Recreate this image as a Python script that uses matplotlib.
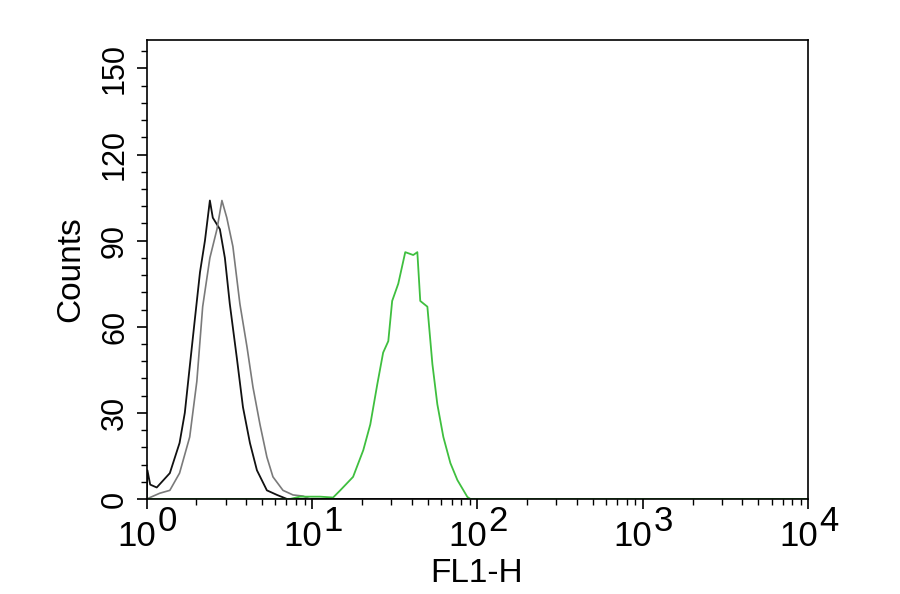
import numpy as np
import matplotlib.pyplot as plt
from matplotlib.ticker import MultipleLocator, LogLocator, NullFormatter

plt.rcParams['font.family'] = ['Liberation Sans', 'DejaVu Sans']

# histogram outlines (FL1-H value, counts)
black_x = [1.00, 1.01, 1.05, 1.15, 1.38, 1.58, 1.70, 1.82, 1.95, 2.10, 2.25, 2.41,
           2.51, 2.77, 2.97, 3.18, 3.51, 3.82, 4.21, 4.64, 5.33, 6.14, 7.05, 95.0]
black_y = [0, 10, 5, 4, 9, 19.5, 30, 46, 62, 79, 90, 104,
           98, 94, 84, 68, 49, 32, 19.5, 10, 3, 1.4, 0, 0]

gray_x = [1.00, 1.20, 1.38, 1.58, 1.82, 2.01, 2.18, 2.41, 2.66, 2.85, 3.05, 3.32,
          3.66, 4.04, 4.39, 4.84, 5.33, 5.80, 6.67, 7.67, 8.82, 9.72]
gray_y = [0, 2, 3, 9, 21.6, 41, 67, 84, 94, 104, 98, 88,
          68, 53, 39, 26, 14.6, 7.7, 3, 1.4, 1, 0]

green_x = [1.00, 7.36, 8.45, 11.2, 13.4, 14.8, 17.7, 20.4, 22.5, 24.8, 26.9, 28.9,
           30.5, 33.2, 36.6, 40.9, 43.3, 45.1, 49.8, 53.4, 57.2, 62.2, 68.6, 75.6,
           86.9, 90.7, 10000]
green_y = [0, 0, 0.8, 0.8, 0.5, 3, 7.7, 17, 26, 40, 51, 55,
           69, 75, 86, 85, 86, 69, 67, 47, 33, 21.6, 12.5, 6.6,
           0.7, 0, 0]

decades = [0, 1, 2, 3, 4]
y_ticks = [0, 30, 60, 90, 120, 150]

fig = plt.figure(figsize=(9, 5.94), dpi=100)
ax = fig.add_axes([0.163, 0.16, 0.735, 0.773])

ax.plot(black_x, black_y, color='#111111', lw=1.3)
ax.plot(gray_x, gray_y, color='#7a7a7a', lw=1.2)
ax.plot(green_x, green_y, color='#3fbf3f', lw=1.3)

ax.set_xscale('log')
ax.set_xlim(1, 1e4)
ax.set_ylim(0, 160)

ax.set_yticks(y_ticks)
ax.yaxis.set_minor_locator(MultipleLocator(6))
ax.xaxis.set_major_locator(LogLocator(base=10, numticks=10))
ax.xaxis.set_minor_locator(LogLocator(base=10, subs=np.arange(2, 10), numticks=20))
ax.xaxis.set_major_formatter(NullFormatter())
ax.xaxis.set_minor_formatter(NullFormatter())

ax.tick_params(axis='both', which='major', direction='out', length=7, width=1.2, color='black')
ax.tick_params(axis='both', which='minor', direction='out', length=4, width=1.0, color='black')
ax.tick_params(axis='y', labelsize=22, pad=5)
for lab in ax.get_yticklabels():
    lab.set_rotation(90)
    lab.set_va('center')

for d in decades:
    ax.annotate('10', xy=(10 ** d, 0), xycoords=('data', 'axes fraction'),
                xytext=(7, -27), textcoords='offset points',
                ha='right', va='center', fontsize=25)
    ax.annotate(str(d), xy=(10 ** d, 0), xycoords=('data', 'axes fraction'),
                xytext=(8, -16), textcoords='offset points',
                ha='left', va='center', fontsize=25)

for s in ax.spines.values():
    s.set_linewidth(1.2)

ax.set_ylabel('Counts', fontsize=24, labelpad=10)
fig.text(0.53, 0.035, 'FL1-H', fontsize=24, ha='center', va='center')

fig.savefig('out.png', dpi=100)
